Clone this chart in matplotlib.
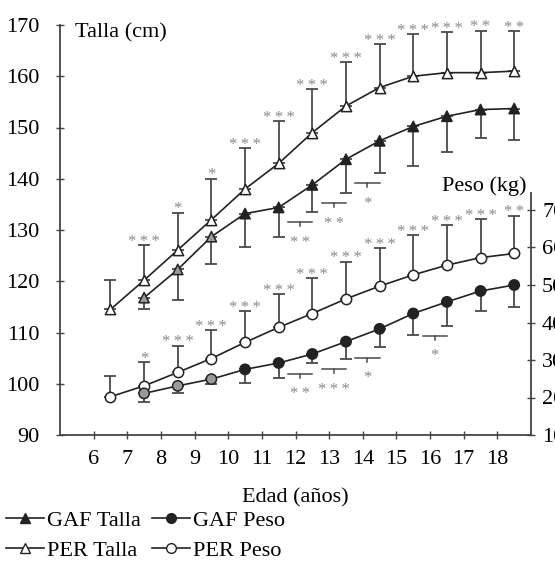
import matplotlib
matplotlib.use('Agg')
import matplotlib.pyplot as plt
from matplotlib.lines import Line2D

plt.rcParams['font.family'] = ['Liberation Serif', 'DejaVu Serif']

# edades (años)
edad_per = [6.5, 7.5, 8.5, 9.5, 10.5, 11.5, 12.5, 13.5, 14.5, 15.5, 16.5, 17.5, 18.5]
edad_gaf = [7.5, 8.5, 9.5, 10.5, 11.5, 12.5, 13.5, 14.5, 15.5, 16.5, 17.5, 18.5]

# Talla (cm)
per_talla = [114.5, 120.2, 126.1, 132.0, 138.0, 143.0, 149.0, 154.2, 157.8, 160.0, 160.7, 160.7, 161.0]
per_talla_de = [5.8, 6.9, 7.3, 8.0, 8.0, 8.3, 8.5, 8.5, 8.5, 8.2, 7.9, 8.2, 7.8]
gaf_talla = [116.8, 122.3, 128.7, 133.2, 134.4, 138.8, 143.8, 147.4, 150.2, 152.2, 153.5, 153.7]
gaf_talla_de = [2.3, 5.9, 5.4, 6.6, 5.8, 5.2, 6.5, 6.2, 7.7, 6.9, 5.5, 6.1]

# Peso (kg)
per_peso = [20.2, 23.1, 26.7, 30.4, 34.7, 38.7, 42.4, 46.3, 49.7, 52.7, 55.3, 57.3, 58.4]
per_peso_de = [5.5, 6.4, 7.1, 7.6, 8.4, 8.8, 9.4, 9.9, 10.1, 10.6, 10.7, 10.3, 10.1]
gaf_peso = [21.1, 23.1, 24.9, 27.5, 29.2, 31.6, 34.9, 38.3, 42.4, 45.5, 48.4, 50.0]
gaf_peso_de = [2.4, 2.0, 1.4, 3.6, 4.1, 2.5, 4.6, 4.9, 5.7, 6.3, 5.3, 5.8]

# significación
sig_per_talla = ['', '***', '*', '*', '***', '***', '***', '***', '***', '***', '***', '**', '**']
sig_per_peso = ['', '*', '***', '***', '***', '***', '***', '***', '***', '***', '***', '***', '**']
sig_gaf_talla = ['', '', '', '', '', '**', '**', '*', '', '', '', '']
sig_gaf_peso = ['', '', '', '', '', '**', '***', '*', '', '*', '', '']

anios = list(range(6, 19))

LINEA = '#222222'
ERR = '#4a4a4a'
GRIS_TXT = '#8a8a8a'
N_GRIS = 3  # primeros puntos GAF en gris

fig = plt.figure(figsize=(5.55, 5.67), dpi=100)
ax = fig.add_axes([60 / 555, 1 - 435 / 567, 471 / 555, 410 / 567])
ax2 = ax.twinx()

ax.set_xlim(5, 19)
ax.set_ylim(90, 170)
# 10 cm = 51.25 px, 10 kg = 37.5 px
ax2.set_ylim(10, 10 + 80 * 5.125 / 3.75)


def estrellas(s):
    return '\u2009'.join(s)


def serie(a, x, y, de, arriba, marker, relleno):
    a.plot(x, y, color=LINEA, lw=1.2, zorder=3)
    lo = [0] * len(de) if arriba else de
    hi = de if arriba else [0] * len(de)
    a.errorbar(x, y, yerr=[lo, hi], fmt='none', ecolor=ERR, elinewidth=1.3,
               capsize=4.5, capthick=1.3, zorder=2)
    a.scatter(x, y, marker=marker, s=55, facecolors=relleno,
              edgecolors=LINEA, linewidths=1.1, zorder=4)


def sig_arriba(a, x, y, de, sig):
    for xi, yi, d, s in zip(x, y, de, sig):
        if s:
            a.annotate(estrellas(s), (xi, yi + d), xytext=(0, -0.5), textcoords='offset points',
                       ha='center', va='baseline', fontsize=12, color=GRIS_TXT)


def sig_abajo(a, x, y, de, sig, sep):
    for xi, yi, d, s in zip(x, y, de, sig):
        if s:
            yb = yi - d - sep
            a.plot([xi - 0.72, xi], [yb, yb], color=ERR, lw=1.1, zorder=2)
            a.plot([xi - 0.36, xi - 0.36], [yb, yb - sep * 0.38], color=ERR, lw=1.1, zorder=2)
            a.annotate(estrellas(s), (xi - 0.36, yb), xytext=(0, -17.5), textcoords='offset points',
                       ha='center', va='baseline', fontsize=12, color=GRIS_TXT)


gris = ['#9a9a9a'] * N_GRIS
serie(ax, edad_per, per_talla, per_talla_de, True, '^', 'white')
serie(ax, edad_gaf, gaf_talla, gaf_talla_de, False, '^', gris + [LINEA] * (len(edad_gaf) - N_GRIS))
serie(ax2, edad_per, per_peso, per_peso_de, True, 'o', 'white')
serie(ax2, edad_gaf, gaf_peso, gaf_peso_de, False, 'o', gris + [LINEA] * (len(edad_gaf) - N_GRIS))

sig_arriba(ax, edad_per, per_talla, per_talla_de, sig_per_talla)
sig_arriba(ax2, edad_per, per_peso, per_peso_de, sig_per_peso)
sig_abajo(ax, edad_gaf, gaf_talla, gaf_talla_de, sig_gaf_talla, 2.1)
sig_abajo(ax2, edad_gaf, gaf_peso, gaf_peso_de, sig_gaf_peso, 2.8)

# ejes
for s in ['top', 'right']:
    ax.spines[s].set_visible(False)
for s in ['top', 'left', 'bottom']:
    ax2.spines[s].set_visible(False)
for sp in [ax.spines['left'], ax.spines['bottom'], ax2.spines['right']]:
    sp.set_color('#444444')
    sp.set_linewidth(1.3)
ax2.spines['right'].set_bounds(10, 74.5)

ax.set_xticks(anios)
ax.set_yticks(range(90, 171, 10))
ax2.set_yticks(range(10, 71, 10))
ax.tick_params(axis='both', direction='inout', length=6, width=1, color='#444444',
               labelsize=16, pad=12)
ax.tick_params(axis='x', pad=8)
ax2.tick_params(axis='y', direction='inout', length=6, width=1, color='#444444',
                labelsize=16, pad=5)

ax.text(5.45, 167.6, 'Talla (cm)', fontsize=16, ha='left', va='baseline')
ax2.text(16.35, 75.0, 'Peso (kg)', fontsize=16, ha='left', va='baseline')
ax.set_xlabel('Edad (años)', fontsize=16, labelpad=14)

handles = [
    Line2D([], [], color=LINEA, marker='^', mfc=LINEA, mec=LINEA, ms=7, lw=1.2),
    Line2D([], [], color=LINEA, marker='^', mfc='white', mec=LINEA, ms=7, lw=1.2),
    Line2D([], [], color=LINEA, marker='o', mfc=LINEA, mec=LINEA, ms=7, lw=1.2),
    Line2D([], [], color=LINEA, marker='o', mfc='white', mec=LINEA, ms=7, lw=1.2),
]
labels = ['GAF Talla', 'PER Talla', 'GAF Peso', 'PER Peso']
fig.legend(handles, labels, ncol=2, loc='lower left', bbox_to_anchor=(-0.005, -0.005),
           frameon=False, fontsize=16, handlelength=1.7, handletextpad=0.15,
           columnspacing=0.5, labelspacing=0.42, borderaxespad=0.2, borderpad=0.2)

fig.savefig('out.png', dpi=100)
